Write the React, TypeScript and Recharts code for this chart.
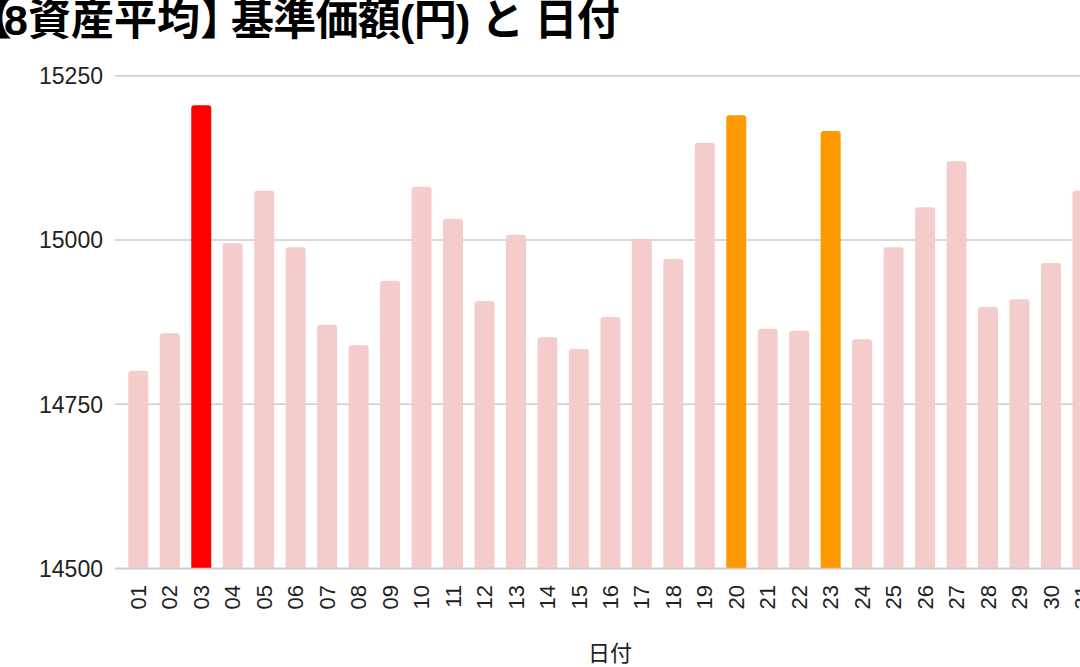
import React from 'react';
import { BarChart, Bar, XAxis, YAxis, CartesianGrid, Cell } from 'recharts';

const days = ['01','02','03','04','05','06','07','08','09','10','11','12','13','14','15','16','17','18','19','20','21','22','23','24','25','26','27','28','29','30','31'];
const navValues = [14801,14858,15205,14995,15075,14989,14871,14840,14938,15081,15032,14907,15008,14852,14834,14883,15002,14971,15148,15190,14865,14862,15166,14849,14989,15050,15120,14898,14910,14965,15075];
const yTicks = [14500, 14750, 15000, 15250];
const maxDays = ['03'];
const highDays = ['20', '23'];

const titleText = '【8資産平均】基準価額(円) と 日付';
const yLabelText = '基準価額(円)';
const xLabelText = '日付';

const FONT = "'Liberation Sans', Arial, 'Noto Sans CJK JP', sans-serif";
const BASE_COLOR = '#f4cccc';
const MAX_COLOR = '#ff0000';
const HIGH_COLOR = '#ff9900';
const TITLE_DX = '0 -8 0 0 0 0 0 -12 -0.7 -0.7 -0.7 -0.7 -0.7 -0.7 -0.7 -0.7 -0.7 -0.7 -0.7';

const data = days.map((d, i) => ({ day: d, value: navValues[i] }));

const colorFor = (d: string) =>
  maxDays.includes(d) ? MAX_COLOR : highDays.includes(d) ? HIGH_COLOR : BASE_COLOR;

const XTick = (props: any) => {
  const { x, payload } = props;
  return (
    <text
      x={x}
      y={585}
      transform={`rotate(-90 ${x} 585)`}
      textAnchor="end"
      dy="0.36em"
      fontSize={22}
      fontFamily={FONT}
      fill="#222"
    >
      {payload.value}
    </text>
  );
};

const YTick = (props: any) => {
  const { y, payload } = props;
  return (
    <text x={103} y={y} dy="0.36em" textAnchor="end" fontSize={23} fontFamily={FONT} fill="#222">
      {payload.value}
    </text>
  );
};

export default function App() {
  return (
    <div style={{ position: 'absolute', left: 0, top: 0, width: 1080, height: 667, overflow: 'hidden', background: '#fff' }}>
      <BarChart
        width={1110}
        height={667}
        data={data}
        margin={{ top: 75.7, right: 4.8, left: 0, bottom: 0 }}
        barSize={20}
      >
        <CartesianGrid vertical={false} stroke="#cccccc" strokeWidth={1.5} />
        <XAxis
          dataKey="day"
          interval={0}
          height={98.4}
          padding={{ left: 7.3, right: 7.3 }}
          tickLine={false}
          axisLine={{ stroke: '#cccccc', strokeWidth: 1.5 }}
          tick={<XTick />}
          label={{ value: xLabelText, position: 'insideBottom', offset: 6, fontSize: 22, fill: '#222', fontFamily: FONT }}
        />
        <YAxis
          width={115}
          domain={[14500, 15250]}
          ticks={yTicks}
          interval={0}
          tickLine={false}
          axisLine={false}
          tick={<YTick />}
        />
        <Bar dataKey="value" isAnimationActive={false} radius={[3, 3, 0, 0]}>
          {data.map((d) => (
            <Cell key={d.day} fill={colorFor(d.day)} />
          ))}
        </Bar>
      </BarChart>
      <svg width={1080} height={667} style={{ position: 'absolute', left: 0, top: 0, pointerEvents: 'none' }}>
        <text x={-31} y={35} dx={TITLE_DX} fontSize={43} fontWeight="bold" fontFamily={FONT} fill="#000">
          {titleText}
        </text>
        <text
          x={-13}
          y={322}
          transform="rotate(-90 -13 322)"
          textAnchor="middle"
          fontSize={22}
          fontFamily={FONT}
          fill="#222"
        >
          {yLabelText}
        </text>
      </svg>
    </div>
  );
}
